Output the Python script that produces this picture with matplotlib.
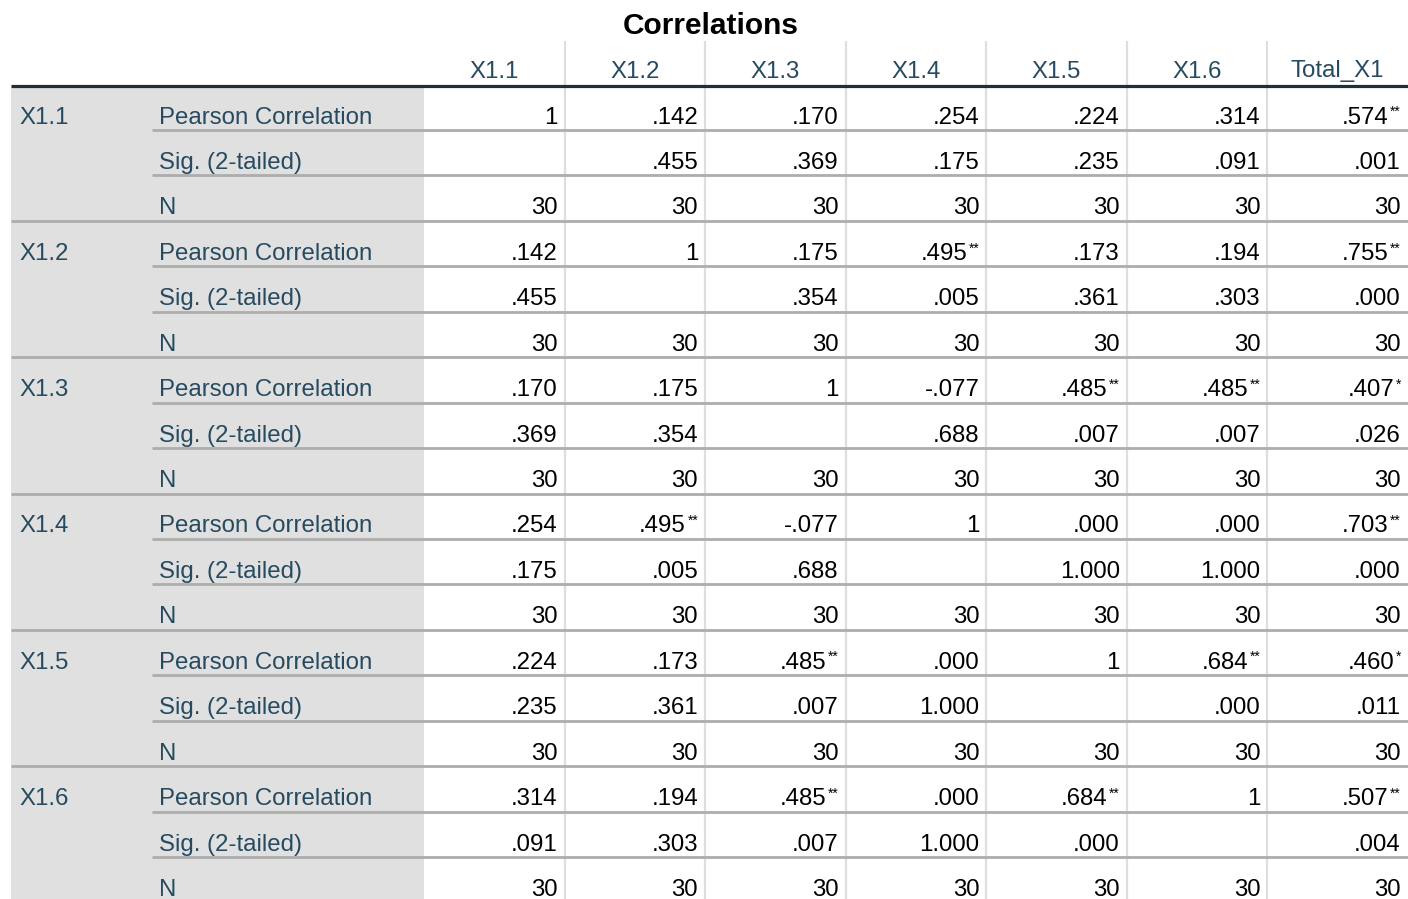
import numpy as np
import matplotlib
matplotlib.use('Agg')
import matplotlib.pyplot as plt
from matplotlib.patches import Rectangle

plt.rcParams['font.family'] = ['Liberation Sans', 'DejaVu Sans']

variables = ['X1.1', 'X1.2', 'X1.3', 'X1.4', 'X1.5', 'X1.6']
columns = ['X1.1', 'X1.2', 'X1.3', 'X1.4', 'X1.5', 'X1.6', 'Total_X1']
stats = ['Pearson Correlation', 'Sig. (2-tailed)', 'N']

# pearson r (diagonal = 1)
r = [
    [1, .142, .170, .254, .224, .314, .574],
    [.142, 1, .175, .495, .173, .194, .755],
    [.170, .175, 1, -.077, .485, .485, .407],
    [.254, .495, -.077, 1, .000, .000, .703],
    [.224, .173, .485, .000, 1, .684, .460],
    [.314, .194, .485, .000, .684, 1, .507],
]
# sig. (2-tailed), None = blank cell
sig = [
    [None, .455, .369, .175, .235, .091, .001],
    [.455, None, .354, .005, .361, .303, .000],
    [.369, .354, None, .688, .007, .007, .026],
    [.175, .005, .688, None, 1.000, 1.000, .000],
    [.235, .361, .007, 1.000, None, .000, .011],
    [.091, .303, .007, 1.000, .000, None, .004],
]
n = [[30] * 7 for _ in range(6)]

LABEL_C = '#264a60'
W, H = 1408, 899

def fmt(v):
    if v == 1 and isinstance(v, int):
        return '1'
    s = f'{v:.3f}'
    if s.startswith('0.'):
        s = s[1:]
    elif s.startswith('-0.'):
        s = '-' + s[2:]
    return s

def stars(p):
    if p is None:
        return ''
    if p < .01:
        return '**'
    if p < .05:
        return '*'
    return ''

fig = plt.figure(figsize=(W / 100, H / 100), dpi=100)
ax = fig.add_axes([0, 0, 1, 1])
ax.set_xlim(0, W)
ax.set_ylim(H, 0)
ax.axis('off')

left = 11
label_right = 424
col_w = (W - label_right) / len(columns)
col_edges = [label_right + i * col_w for i in range(len(columns) + 1)]
header_y = 86
row0 = 116
pitch = 45.44
FS = 17.3
base = 7.5  # baseline offset from row centre

ax.text(711, 26.5, 'Correlations', ha='center', va='center', fontsize=21.5,
        fontweight='bold', color='black')

# grey stub area
ax.add_patch(Rectangle((left, header_y), label_right - left, H - header_y,
                       facecolor='#e0e0e0', edgecolor='none', zorder=0))

# vertical grid
for x in col_edges[1:-1]:
    ax.plot([x, x], [41, H], color='#dedede', lw=1.6, zorder=1,
            solid_capstyle='butt')

# column headers
for j, c in enumerate(columns):
    ax.text((col_edges[j] + col_edges[j + 1]) / 2, 70 + base, c, ha='center',
            va='baseline', fontsize=FS, color=LABEL_C)

ax.plot([left, W], [header_y, header_y], color='#1c2f3d', lw=2.3, zorder=3,
        solid_capstyle='butt')

k = 0
for i, v in enumerate(variables):
    ax.text(19, row0 + 3 * i * pitch + base, v, ha='left', va='baseline',
            fontsize=FS, color=LABEL_C)
    for s_i, s in enumerate(stats):
        y = row0 + k * pitch
        ax.text(159, y + base, s, ha='left', va='baseline', fontsize=FS,
                color=LABEL_C)
        for j in range(len(columns)):
            xr = col_edges[j + 1] - 7
            if s_i == 0:
                txt = fmt(r[i][j])
                st = stars(sig[i][j])
            elif s_i == 1:
                txt = '' if sig[i][j] is None else fmt(sig[i][j])
                st = ''
            else:
                txt = str(n[i][j])
                st = ''
            if st:
                ax.text(xr, y + base - 7.5, st, ha='right', va='baseline',
                        fontsize=10, color='black')
                xr -= 5.6 * len(st) + 1
            ax.text(xr, y + base, txt, ha='right', va='baseline', fontsize=FS,
                    color='black')
        # line under each row
        ly = y + 14
        x0 = left if s_i == 2 else 152
        ax.plot([x0, W], [ly, ly], color='#adadad', lw=2, zorder=2,
                solid_capstyle='butt')
        k += 1

fig.savefig('out.png', dpi=100)
